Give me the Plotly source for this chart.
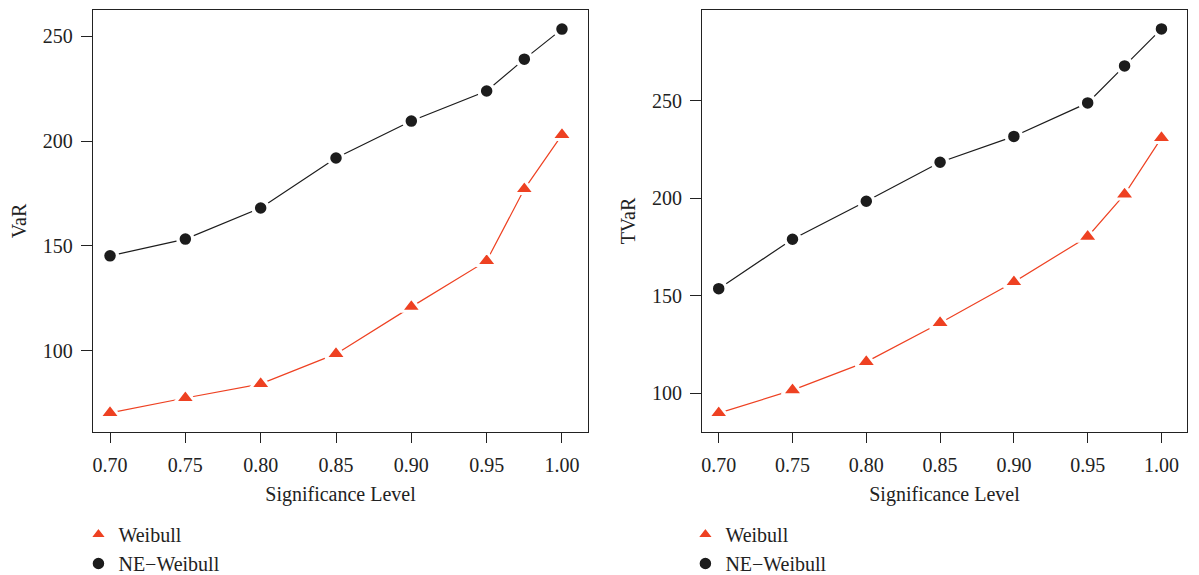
import plotly.graph_objects as go

levels = [0.70, 0.75, 0.80, 0.85, 0.90, 0.95, 0.975, 1.00]
var_weibull = [70.5, 77.6, 84.3, 98.6, 121.0, 142.9, 177.1, 202.9]
var_ne_weibull = [145.3, 153.3, 168.1, 191.9, 209.5, 223.8, 239.0, 253.3]
tvar_weibull = [89.7, 101.5, 116.0, 136.0, 157.0, 180.3, 202.0, 231.0]
tvar_ne_weibull = [153.6, 179.0, 198.5, 218.5, 231.8, 249.0, 268.0, 287.0]
x_ticks = [0.70, 0.75, 0.80, 0.85, 0.90, 0.95, 1.00]
x_tick_labels = ["0.70", "0.75", "0.80", "0.85", "0.90", "0.95", "1.00"]

RED = "#EE4122"
BLACK = "#1c1c1c"
FONT = "Liberation Serif"

fig = go.Figure()

def add_series(xa, ya, y, color, symbol, size, sw, name, legend):
    fig.add_trace(go.Scatter(x=levels, y=y, mode="lines", line=dict(color=color, width=1.2),
                             xaxis=xa, yaxis=ya, showlegend=False, hoverinfo="skip"))
    fig.add_trace(go.Scatter(x=levels, y=y, mode="markers", name=name,
                             marker=dict(color=color, symbol=symbol, size=size,
                                         line=dict(color="white", width=sw)),
                             xaxis=xa, yaxis=ya, legend=legend))

add_series("x", "y", var_weibull, RED, "triangle-up", 18, 3, "Weibull", "legend")
add_series("x", "y", var_ne_weibull, BLACK, "circle", 15, 3.5, "NE\u2212Weibull", "legend")
add_series("x2", "y2", tvar_weibull, RED, "triangle-up", 18, 3, "Weibull", "legend2")
add_series("x2", "y2", tvar_ne_weibull, BLACK, "circle", 15, 3.5, "NE\u2212Weibull", "legend2")

axis_common = dict(showline=True, mirror=True, linecolor="#222", linewidth=1.3,
                   ticks="outside", tickcolor="#222", tickwidth=1.2,
                   showgrid=False, zeroline=False, automargin=False, tickangle=0,
                   tickfont=dict(family=FONT, size=20, color="#222"))
x_common = dict(ticklen=10, ticklabelstandoff=5,
                title=dict(text="Significance Level", font=dict(family=FONT, size=20), standoff=11),
                **axis_common)
y_common = dict(ticklen=11, ticklabelstandoff=4, **axis_common)

fig.update_layout(
    width=1199, height=575,
    margin=dict(l=85, r=20, t=2, b=151, autoexpand=False),
    plot_bgcolor="white", paper_bgcolor="white",
    font=dict(family=FONT, color="#222"),
    xaxis=dict(domain=[0.0, 0.4525], range=[0.6887, 1.0173], tickvals=x_ticks,
               ticktext=x_tick_labels, anchor="y", **x_common),
    yaxis=dict(domain=[0.0, 1.0], range=[61.4, 262.4], tickvals=[100, 150, 200, 250],
               anchor="x", title=dict(text="VaR", font=dict(family=FONT, size=20), standoff=14),
               **y_common),
    xaxis2=dict(domain=[0.5567, 1.0], range=[0.6887, 1.0173], tickvals=x_ticks,
                ticktext=x_tick_labels, anchor="y2", **x_common),
    yaxis2=dict(domain=[0.0, 1.0], range=[80.0, 296.7], tickvals=[100, 150, 200, 250],
                anchor="x2", title=dict(text="TVaR", font=dict(family=FONT, size=20), standoff=10),
                **y_common),
    legend=dict(x=-0.0133, y=-0.1967, xanchor="left", yanchor="top", orientation="v",
                font=dict(family=FONT, size=20), itemwidth=30, bgcolor="rgba(0,0,0,0)"),
    legend2=dict(x=0.5415, y=-0.1967, xanchor="left", yanchor="top", orientation="v",
                 font=dict(family=FONT, size=20), itemwidth=30, bgcolor="rgba(0,0,0,0)"),
)

fig.write_html("out.html")
